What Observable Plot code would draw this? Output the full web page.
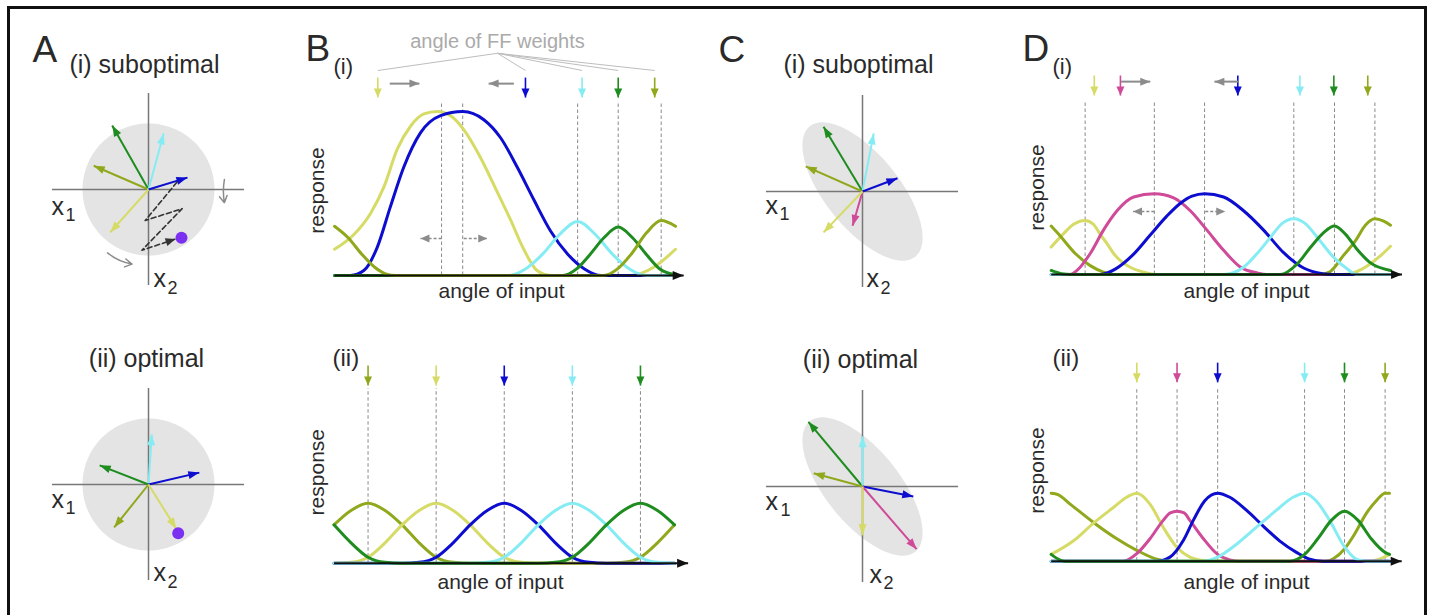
<!DOCTYPE html>
<html><head><meta charset="utf-8">
<script src="https://cdn.jsdelivr.net/npm/d3@7"></script>
<script src="https://cdn.jsdelivr.net/npm/@observablehq/plot@0.6"></script>
<style>
html,body{margin:0;padding:0;background:#fff;}
#fig{position:relative;width:1429px;height:615px;overflow:hidden;background:#fff;font-family:"Liberation Sans",Arial,sans-serif;}
#frame{position:absolute;left:7px;top:6px;width:1414px;height:660px;border:3px solid #111;}
.panel{position:absolute;}
.panel svg{overflow:visible;background:transparent;max-width:none;}
</style></head><body><div id="fig"><div id="frame"></div></div>
<script>
// ---------- styles ----------
const COLORS = {yellow:"#d6db66", olive:"#8fa81c", green:"#1e8c1e", cyan:"#86ecf4", blue:"#0d0dcf", magenta:"#cf4a98"};
const DOT_COLOR = "#7b2ff0", GRAY = "#8c8c8c", DISK = "#e4e4e4", AXIS = "#777", INK = "#2a2a2a";
const FONT = '"Liberation Sans", Arial, sans-serif';

// ---------- data: panel A (weight vectors, input distribution radius = 1) ----------
const vecAi = [
  {name:"green", x:-0.55, y:0.97}, {name:"olive", x:-0.83, y:0.36},
  {name:"cyan", x:0.23, y:0.85}, {name:"blue", x:0.59, y:0.18},
  {name:"yellow", x:-0.58, y:-0.65}];
const inputPathAi = [{x:0.43,y:0.11},{x:-0.05,y:-0.47},{x:0.51,y:-0.29},{x:-0.10,y:-0.92},{x:0.41,y:-0.75}];
const inputAi = [{x:0.50, y:-0.73}];
const rotArrowRightAi = [{x1:1.15,y1:0.15,x2:1.15,y2:-0.20}];
const rotArrowBottomAi = [{x1:-0.62,y1:-0.96,x2:-0.25,y2:-1.13}];
const vecAii = [
  {name:"cyan", x:0.05, y:0.76}, {name:"green", x:-0.74, y:0.29},
  {name:"blue", x:0.77, y:0.18}, {name:"olive", x:-0.52, y:-0.65},
  {name:"yellow", x:0.42, y:-0.67}];
const inputAii = [{x:0.45, y:-0.74}];
const inputDistA = {a:1, b:1, angle:0};

// ---------- data: panel C ----------
const vecCi = [
  {name:"green", x:-0.59, y:0.98}, {name:"cyan", x:0.17, y:0.88},
  {name:"olive", x:-0.86, y:0.38}, {name:"blue", x:0.53, y:0.20},
  {name:"magenta", x:-0.15, y:-0.52}, {name:"yellow", x:-0.59, y:-0.62}];
const vecCii = [
  {name:"green", x:-0.82, y:0.98}, {name:"cyan", x:0.0, y:0.76},
  {name:"olive", x:-0.74, y:0.20}, {name:"blue", x:0.77, y:-0.15},
  {name:"magenta", x:0.82, y:-0.95}, {name:"yellow", x:0.0, y:-0.74}];
const inputDistC = {a:1.27, b:0.56, angle:-51};

// ---------- data: panel B (angle of input 0..100, response) ----------
const curvesBi = [
  {name:"yellow", pts:[[0,0.16],[5.7,0.25],[10.6,0.38],[14.5,0.54],[18.4,0.77],[22.3,0.91],[26.2,0.985],[30.1,1.0],[34,0.975],[37.9,0.89],[42.8,0.72],[47.7,0.51],[51.6,0.34],[55.5,0.16],[59.4,0.03],[63.3,0],[86.8,0],[93.6,0.05],[100,0.16]]},
  {name:"blue", pts:[[0,0],[4.7,0],[8.6,0.03],[12.5,0.17],[16.4,0.42],[20.3,0.66],[25.2,0.87],[31.1,0.975],[37.6,1.0],[43.8,0.95],[48.7,0.84],[53.6,0.66],[58.5,0.46],[63.4,0.27],[68.4,0.13],[73.3,0.04],[78.2,0],[100,0]]},
  {name:"cyan", pts:[[0,0],[51,0],[56,0.04],[61,0.13],[66,0.25],[71.3,0.33],[76.5,0.25],[81.5,0.13],[86.5,0.04],[91.5,0],[100,0]]},
  {name:"green", pts:[[0,0],[67,0],[71,0.04],[75,0.13],[79,0.23],[83.2,0.295],[87.4,0.23],[91.4,0.13],[95.4,0.04],[100,0.005]]},
  {name:"olive", pts:[[0,0.30],[4,0.23],[8,0.13],[11.8,0.05],[15,0.01],[18,0],[79,0],[83,0.04],[87,0.13],[91.5,0.26],[95.8,0.335],[100,0.30]]}];
const weightsBi = [{name:"yellow",x:12.7},{name:"blue",x:56.0},{name:"cyan",x:72.6},{name:"green",x:83.2},{name:"olive",x:93.9}];
const peaksBi = [31.4, 37.6, 71.3, 83.2, 95.8];
const weightShiftBi = [{x1:16.2,x2:24.9},{x1:52.6,x2:45.2}];
const peakShiftBi = [{x1:31.4,x2:25.2},{x1:37.9,x2:44.8}];
const fanApexBi = {x:47.8, y:1.355};

const curvesBii = [
  {name:"olive", pts:[[0,0.64],[5,0.88],[10,1],[15,0.88],[20,0.64],[25,0.34],[30,0.1],[35,0.015],[40,0],[80,0],[85,0.015],[90,0.1],[95,0.34],[100,0.64]]},
  {name:"yellow", pts:[[0,0],[5,0.015],[10,0.1],[15,0.34],[20,0.64],[25,0.88],[30,1],[35,0.88],[40,0.64],[45,0.34],[50,0.1],[55,0.015],[60,0],[100,0]]},
  {name:"blue", pts:[[0,0],[20,0],[25,0.015],[30,0.1],[35,0.34],[40,0.64],[45,0.88],[50,1],[55,0.88],[60,0.64],[65,0.34],[70,0.1],[75,0.015],[80,0],[100,0]]},
  {name:"cyan", pts:[[0,0],[40,0],[45,0.015],[50,0.1],[55,0.34],[60,0.64],[65,0.88],[70,1],[75,0.88],[80,0.64],[85,0.34],[90,0.1],[95,0.015],[100,0]]},
  {name:"green", pts:[[0,0.64],[5,0.34],[10,0.1],[15,0.015],[20,0],[60,0],[65,0.015],[70,0.1],[75,0.34],[80,0.64],[85,0.88],[90,1],[95,0.88],[100,0.64]]}];
const weightsBii = [{name:"olive",x:10},{name:"yellow",x:30},{name:"blue",x:50},{name:"cyan",x:70},{name:"green",x:90}];
const peaksBii = [10, 30, 50, 70, 90];

// ---------- data: panel D ----------
const curvesDi = [
  {name:"yellow", pts:[[0,0.34],[3.5,0.5],[6.5,0.62],[10,0.67],[12.5,0.62],[14.4,0.5],[16.5,0.38],[18.4,0.26],[21,0.15],[23.3,0.09],[27.2,0.03],[31,0],[86,0],[89,0.02],[94,0.13],[97,0.23],[100,0.35]]},
  {name:"olive", pts:[[0,0.6],[2.6,0.48],[7.1,0.26],[11.5,0.11],[15.4,0.03],[18.4,0],[79,0],[82,0.03],[86.2,0.24],[89.7,0.42],[92.6,0.61],[95.4,0.69],[98,0.66],[100,0.61]]},
  {name:"magenta", pts:[[0,0],[5.6,0],[7.6,0.05],[11.5,0.26],[15.4,0.55],[19.4,0.79],[24.3,0.96],[30.4,1.0],[36.1,0.95],[41,0.79],[45.9,0.55],[50.8,0.3],[55.8,0.09],[60.7,0.02],[63.6,0],[100,0]]},
  {name:"blue", pts:[[0,0],[14.5,0],[19,0.07],[24,0.24],[29,0.48],[34,0.72],[38,0.88],[41.5,0.97],[45.2,1.0],[50.8,0.96],[56.7,0.79],[62.6,0.55],[68.5,0.27],[74.4,0.08],[80,0.01],[83,0],[100,0]]},
  {name:"cyan", pts:[[0,0],[50.8,0],[56.7,0.09],[60.7,0.26],[64.6,0.46],[68,0.63],[71.5,0.69],[74.9,0.63],[78.8,0.44],[83.3,0.21],[87.2,0.07],[90,0],[100,0]]},
  {name:"green", pts:[[0,0.05],[3,0.01],[6,0],[67.5,0],[72.5,0.13],[76.5,0.34],[80.3,0.52],[83.5,0.6],[86.7,0.5],[90,0.32],[93.9,0.15],[100,0.05]]}];
const weightsDi = [{name:"yellow",x:12.7},{name:"magenta",x:20.4},{name:"blue",x:55.0},{name:"cyan",x:73.3},{name:"green",x:83.3},{name:"olive",x:93.3}];
const peaksDi = [10.0, 30.4, 45.2, 71.5, 83.5, 95.4];
const weightShiftDi = [{x1:20.6,x2:29.2},{x1:55.3,x2:48.1}];
const peakShiftDi = [{x1:30.4,x2:24.1},{x1:45.4,x2:51.3}];

const curvesDii = [
  {name:"olive", pts:[[0,1.0],[2,0.98],[5.6,0.84],[12.5,0.57],[19.4,0.33],[25.3,0.16],[31.2,0.03],[35.1,0],[81.3,0],[83.5,0.04],[86.7,0.18],[89.7,0.4],[93.1,0.7],[96.1,0.89],[98.7,1.0],[100,1.0]]},
  {name:"yellow", pts:[[0,0.1],[6.6,0.3],[12.5,0.56],[18.4,0.79],[22.3,0.94],[25.3,1.0],[29.2,0.84],[33.1,0.5],[37.2,0.2],[41,0.06],[45,0.01],[48.9,0],[94,0],[97,0.03],[100,0.1]]},
  {name:"magenta", pts:[[0,0],[21.3,0],[25.3,0.11],[29.2,0.33],[33.1,0.6],[35.2,0.71],[37.2,0.735],[39.3,0.71],[41,0.6],[45,0.33],[49.2,0.1],[52.8,0.02],[55.8,0],[100,0]]},
  {name:"blue", pts:[[0,0],[31.2,0],[35.1,0.06],[39,0.3],[42,0.6],[45.4,0.89],[49.2,1.0],[52.8,0.94],[57.7,0.75],[62.6,0.52],[67.5,0.3],[72.5,0.13],[76.4,0.03],[80.3,0],[100,0]]},
  {name:"cyan", pts:[[0,0],[45,0],[49.2,0.06],[54.8,0.25],[60.7,0.5],[66.6,0.75],[71.5,0.94],[74.9,1.0],[78.3,0.89],[82.3,0.6],[86.7,0.21],[90.2,0.03],[93,0],[100,0]]},
  {name:"green", pts:[[0,0.1],[2.5,0.02],[4,0],[70.5,0],[74.9,0.1],[78.8,0.33],[82.8,0.6],[86.7,0.735],[90.7,0.6],[94.6,0.33],[98.7,0.13],[100,0.1]]}];
const weightsDii = [{name:"yellow",x:25.3},{name:"magenta",x:37.2},{name:"blue",x:49.2},{name:"cyan",x:74.9},{name:"green",x:86.7},{name:"olive",x:98.7}];
const peaksDii = [25.3, 37.2, 49.2, 74.9, 86.7, 98.7];

// ---------- helpers ----------
const NS = "http://www.w3.org/2000/svg";
function head(len, wid) {
  return (color, context) => {
    const doc = (context && context.document) || document;
    const m = doc.createElementNS(NS, "marker");
    m.setAttribute("viewBox", `${-len} ${-wid/2} ${len} ${wid}`);
    m.setAttribute("markerWidth", len);
    m.setAttribute("markerHeight", wid);
    m.setAttribute("markerUnits", "userSpaceOnUse");
    m.setAttribute("orient", "auto");
    m.setAttribute("refX", 0);
    m.setAttribute("refY", 0);
    m.setAttribute("overflow", "visible");
    const p = doc.createElementNS(NS, "path");
    p.setAttribute("d", `M${-len},${-wid/2}L0,0L${-len},${wid/2}Z`);
    p.setAttribute("fill", color);
    p.setAttribute("stroke", "none");
    m.appendChild(p);
    return m;
  };
}
function label(s, lx, ly, mL, mT, o = {}) {
  return Plot.text([s], {text: d => d, frameAnchor: "top-left", dx: lx - mL, dy: ly - mT,
    textAnchor: "start", lineAnchor: "bottom", fill: INK, fontSize: 21, fontFamily: FONT, ...o});
}
function ellipse({a, b, angle}) {
  const t = angle * Math.PI / 180;
  return d3.range(0, 360, 3).map(deg => {
    const u = deg * Math.PI / 180;
    return {x: a*Math.cos(u)*Math.cos(t) - b*Math.sin(u)*Math.sin(t),
            y: a*Math.cos(u)*Math.sin(t) + b*Math.sin(u)*Math.cos(t)};
  });
}
function place(node, left, top, w, h) {
  const div = document.createElement("div");
  div.className = "panel";
  div.style.left = left + "px"; div.style.top = top + "px";
  div.style.width = w + "px"; div.style.height = h + "px";
  div.appendChild(node);
  document.getElementById("fig").appendChild(div);
}

// vector diagram: origin at local (cx, cy), unit = px per input unit
function vectorPanel({left, top, W, H, cx, cy, unit, dist, vecs, extra = [], texts = []}) {
  const L = 1.455;
  const svg = Plot.plot({
    width: W, height: H, margin: 0,
    x: {domain: [-cx/unit, (W - cx)/unit], axis: null},
    y: {domain: [-(H - cy)/unit, cy/unit], axis: null},
    style: {fontFamily: FONT, background: "transparent", overflow: "visible"},
    marks: [
      Plot.line(ellipse(dist), {x: "x", y: "y", fill: DISK, stroke: "none", curve: "linear-closed"}),
      Plot.ruleY([0], {x1: -L, x2: L, stroke: AXIS, strokeWidth: 1.5}),
      Plot.ruleX([0], {y1: -L, y2: L, stroke: AXIS, strokeWidth: 1.5}),
      Plot.link(vecs, {x1: 0, y1: 0, x2: "x", y2: "y", stroke: d => COLORS[d.name], strokeWidth: 2, markerEnd: head(11, 8)}),
      ...extra,
      ...texts.map(t => label(t[0], t[1], t[2], 0, 0, t[3] || {}))
    ]
  });
  place(svg, left, top, W, H);
}

function curvePanel({left, top, W, H, mL, mR, mT, mB, curves, weights, peaks, arrowY, dashTop, axisEnd,
                     wShift, wShiftY, pShift, pShiftY, extra = [], texts = [], ylab}) {
  const rows = curves.flatMap(c => c.pts.map(([x, y]) => ({name: c.name, x, y})));
  const marks = [
    Plot.ruleX(peaks, {x: d => d, y1: 0, y2: dashTop, stroke: "#8a8a8a", strokeWidth: 1, strokeDasharray: "3.5,2.5"}),
    Plot.line(rows, {x: "x", y: "y", z: "name", stroke: d => COLORS[d.name], strokeWidth: 3, curve: "monotone-x", strokeLinejoin: "round"}),
    Plot.link([0], {x1: 0, x2: axisEnd, y1: 0, y2: 0, stroke: "#111", strokeWidth: 2, markerEnd: head(11, 9)}),
    Plot.link(weights, {x1: "x", x2: "x", y1: arrowY[0], y2: arrowY[1], stroke: d => COLORS[d.name], strokeWidth: 1.6, markerEnd: head(9, 8)})
  ];
  if (wShift) marks.push(Plot.link(wShift, {x1: "x1", x2: "x2", y1: wShiftY, y2: wShiftY, stroke: GRAY, strokeWidth: 2, markerEnd: head(10, 8)}));
  if (pShift) marks.push(Plot.link(pShift, {x1: "x1", x2: "x2", y1: pShiftY, y2: pShiftY, stroke: GRAY, strokeWidth: 1.5, strokeDasharray: "3,2", markerEnd: head(9, 8)}));
  marks.push(...extra);
  marks.push(...texts.map(t => label(t[0], t[1], t[2], mL, mT, t[3] || {})));
  marks.push(label("response", ylab[0], ylab[1], mL, mT, {rotate: -90, textAnchor: "middle", lineAnchor: "middle"}));
  const svg = Plot.plot({
    width: W, height: H, marginLeft: mL, marginRight: mR, marginTop: mT, marginBottom: mB,
    x: {domain: [0, 100], axis: null}, y: {domain: [0, 1], axis: null},
    style: {fontFamily: FONT, background: "transparent", overflow: "visible"},
    marks
  });
  place(svg, left, top, W, H);
}

// ---------- Panel A ----------
const X = {fontSize: 25}, SUB = {fontSize: 18};
vectorPanel({left: 0, top: 0, W: 270, H: 300, cx: 148, cy: 189, unit: 66, dist: inputDistA, vecs: vecAi,
  extra: [
    Plot.line(inputPathAi, {x: "x", y: "y", stroke: "#333", strokeWidth: 1.6, strokeDasharray: "5,3", markerEnd: head(10, 8)}),
    Plot.dot(inputAi, {x: "x", y: "y", r: 6, fill: DOT_COLOR}),
    Plot.arrow(rotArrowRightAi, {x1: "x1", y1: "y1", x2: "x2", y2: "y2", bend: -10, stroke: GRAY, strokeWidth: 1.5, headLength: 8}),
    Plot.arrow(rotArrowBottomAi, {x1: "x1", y1: "y1", x2: "x2", y2: "y2", bend: -15, stroke: GRAY, strokeWidth: 1.5, headLength: 8})
  ],
  texts: [["A", 32, 61, {fontSize: 37}], ["(i) suboptimal", 144, 72, {fontSize: 25, textAnchor: "middle"}],
          ["x", 51, 214, X], ["1", 65, 220, SUB],
          ["x", 153, 286, X], ["2", 167, 293, SUB]]});
vectorPanel({left: 0, top: 300, W: 270, H: 315, cx: 148, cy: 184, unit: 66, dist: inputDistA, vecs: vecAii,
  extra: [Plot.dot(inputAii, {x: "x", y: "y", r: 6, fill: DOT_COLOR})],
  texts: [["(ii) optimal", 146, 66, {fontSize: 25, textAnchor: "middle"}],
          ["x", 51, 207, X], ["1", 65, 213, SUB],
          ["x", 153, 280, X], ["2", 167, 287, SUB]]});

// ---------- Panel C ----------
vectorPanel({left: 700, top: 0, W: 290, H: 300, cx: 162, cy: 191, unit: 66, dist: inputDistC, vecs: vecCi,
  texts: [["C", 18, 61, {fontSize: 37}], ["(i) suboptimal", 158, 72, {fontSize: 25, textAnchor: "middle"}],
          ["x", 65, 213, X], ["1", 79, 219, SUB],
          ["x", 166, 286, X], ["2", 180, 293, SUB]]});
vectorPanel({left: 700, top: 300, W: 290, H: 315, cx: 162, cy: 186, unit: 66, dist: inputDistC, vecs: vecCii,
  texts: [["(ii) optimal", 160, 67, {fontSize: 25, textAnchor: "middle"}],
          ["x", 65, 209, X], ["1", 80, 215, SUB],
          ["x", 169, 282, X], ["2", 183, 288, SUB]]});

// ---------- Panel B ----------
curvePanel({left: 270, top: 0, W: 430, H: 300, mL: 64, mR: 25, mT: 111, mB: 25,
  curves: curvesBi, weights: weightsBi, peaks: peaksBi, arrowY: [1.207, 1.085], dashTop: 1.049, axisEnd: 102.4,
  wShift: weightShiftBi, wShiftY: 1.17, pShift: peakShiftBi, pShiftY: 0.226, ylab: [47, 190],
  extra: [
    Plot.link(weightsBi, {x1: fanApexBi.x, y1: fanApexBi.y, x2: "x", y2: 1.25, stroke: "#bdbdbd", strokeWidth: 1}),
    Plot.text([fanApexBi], {x: "x", y: "y", text: () => "angle of FF weights", dy: -5, lineAnchor: "bottom", fill: "#aaa", fontSize: 20, fontFamily: FONT})
  ],
  texts: [["B", 35, 60, {fontSize: 37}], ["(i)", 63, 73, {fontSize: 22}],
          ["angle of input", 231, 297, {textAnchor: "middle"}]]});
curvePanel({left: 270, top: 300, W: 430, H: 315, mL: 63.5, mR: 26, mT: 202.7, mB: 52.3,
  curves: curvesBii, weights: weightsBii, peaks: peaksBii, arrowY: [3.295, 2.96], dashTop: 2.91, axisEnd: 104,
  ylab: [46.7, 171.7],
  texts: [["(ii)", 62, 65, {fontSize: 24}], ["angle of input", 230, 288, {textAnchor: "middle"}]]});

// ---------- Panel D ----------
curvePanel({left: 990, top: 0, W: 439, H: 300, mL: 60.7, mR: 39, mT: 193.3, mB: 26,
  curves: curvesDi, weights: weightsDi, peaks: peaksDi, arrowY: [2.466, 2.218], dashTop: 2.13, axisEnd: 103.4,
  wShift: weightShiftDi, wShiftY: 2.39, pShift: peakShiftDi, pShiftY: 0.78, ylab: [47, 187],
  texts: [["D", 32, 60, {fontSize: 37}], ["(i)", 62, 73, {fontSize: 22}],
          ["angle of input", 256, 297, {textAnchor: "middle"}]]});
curvePanel({left: 990, top: 300, W: 439, H: 315, mL: 60.7, mR: 40, mT: 192.7, mB: 54.3,
  curves: curvesDii, weights: weightsDii, peaks: peaksDii, arrowY: [2.92, 2.63], dashTop: 2.54, axisEnd: 103.6,
  ylab: [46.7, 170],
  texts: [["(ii)", 62, 65, {fontSize: 24}], ["angle of input", 256, 288, {textAnchor: "middle"}]]});
</script></body></html>
